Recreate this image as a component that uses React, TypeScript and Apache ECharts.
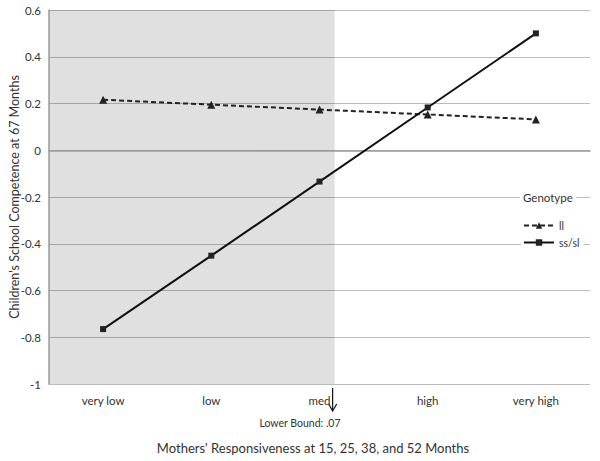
import React, { useEffect, useRef } from "react";
import * as echarts from "echarts";

const categories = ["very low", "low", "med", "high", "very high"];
const llValues = [0.216, 0.195, 0.174, 0.153, 0.132];
const ssValues = [-0.765, -0.451, -0.134, 0.183, 0.5];
const yTicks = { min: -1, max: 0.6, interval: 0.2 };
const shadeRange = [0, 2.64];

export default function App() {
  const ref = useRef<HTMLDivElement>(null);
  useEffect(() => {
    if (!ref.current) return;
    const chart = echarts.init(ref.current, null, { renderer: "svg" });
    const font = "Lato, 'Open Sans', sans-serif";
    chart.setOption({
      animation: false,
      textStyle: { fontFamily: font },
      grid: { left: 49, right: 10, top: 10, bottom: 77, outerBoundsMode: "none", containLabel: false },
      xAxis: [
        {
          type: "category",
          data: categories,
          axisLine: { lineStyle: { color: "#9a9a9a", width: 1.5 } },
          axisTick: { show: false },
          axisLabel: { color: "#333", fontSize: 11.5, margin: 10, fontFamily: font },
        },
        { type: "value", min: 0, max: 5, show: false },
      ],
      yAxis: {
        type: "value",
        min: yTicks.min,
        max: yTicks.max,
        interval: yTicks.interval,
        axisLine: { show: true, lineStyle: { color: "#9a9a9a", width: 1.5 } },
        axisTick: { show: false },
        axisLabel: {
          color: "#333",
          fontSize: 11.5,
          margin: 8,
          fontFamily: font,
          formatter: (v: number) => String(Number(v.toFixed(1))),
        },
        splitLine: { lineStyle: { color: "#bcbcbc", width: 1.2 } },
      },
      legend: {
        orient: "vertical",
        left: 521,
        top: 216,
        itemWidth: 30,
        itemHeight: 8,
        itemGap: 6,
        padding: [4, 4, 2, 2],
        backgroundColor: "#fff",
        z: 10,
        textStyle: { color: "#333", fontSize: 10.5, fontFamily: font },
        data: ["ll", "ss/sl"],
      },
      series: [
        {
          name: "ll",
          type: "line",
          data: llValues,
          symbol: "triangle",
          symbolSize: 8,
          lineStyle: { color: "#222", width: 2, type: [5, 3] },
          itemStyle: { color: "#222" },
          z: 6,
        },
        {
          name: "ss/sl",
          type: "line",
          data: ssValues,
          symbol: "rect",
          symbolSize: 6,
          lineStyle: { color: "#111", width: 2 },
          itemStyle: { color: "#222" },
          z: 7,
        },
      ],
    });
    const x0 = chart.convertToPixel({ xAxisIndex: 1 }, shadeRange[0]) as number;
    const x1 = chart.convertToPixel({ xAxisIndex: 1 }, shadeRange[1]) as number;
    const yTop = chart.convertToPixel({ yAxisIndex: 0 }, yTicks.max) as number;
    const yBot = chart.convertToPixel({ yAxisIndex: 0 }, yTicks.min) as number;
    chart.setOption({
      graphic: {
        elements: [
          {
            type: "rect",
            silent: true,
            shape: { x: x0, y: yTop, width: x1 - x0, height: yBot - yTop },
            style: { fill: "rgba(0,0,0,0.12)" },
          },
          {
            type: "text",
            x: 14,
            y: (yTop + yBot) / 2,
            rotation: Math.PI / 2,
            style: {
              text: "Children's School Competence at 67 Months",
              fill: "#333",
              fontSize: 12.5,
              fontFamily: font,
              align: "center",
              verticalAlign: "middle",
            },
          },
          {
            type: "text",
            left: 520,
            top: 190,
            z: 20,
            z2: 50,
            style: {
              text: "Genotype",
              fill: "#333",
              fontSize: 11.5,
              fontFamily: font,
              backgroundColor: "#fff",
              padding: [1, 3, 1, 3],
            },
          },
          {
            type: "line",
            shape: { x1: x1 - 2, y1: 388, x2: x1 - 2, y2: 410 },
            style: { stroke: "#111", lineWidth: 1.2 },
          },
          {
            type: "polyline",
            shape: { points: [[x1 - 6, 404], [x1 - 2, 411], [x1 + 2, 404]] },
            style: { stroke: "#111", lineWidth: 1.2, fill: "none" },
          },
          {
            type: "text",
            x: 300,
            y: 423,
            style: {
              text: "Lower Bound: .07",
              fill: "#333",
              fontSize: 10.5,
              fontFamily: font,
              align: "center",
              verticalAlign: "middle",
            },
          },
          {
            type: "text",
            x: 313,
            y: 448,
            style: {
              text: "Mothers' Responsiveness at 15, 25, 38, and 52 Months",
              fill: "#333",
              fontSize: 13,
              fontFamily: font,
              align: "center",
              verticalAlign: "middle",
            },
          },
        ],
      },
    });
    return () => chart.dispose();
  }, []);
  return <div ref={ref} style={{ width: 600, height: 461, position: "absolute", left: 0, top: 0 }} />;
}
